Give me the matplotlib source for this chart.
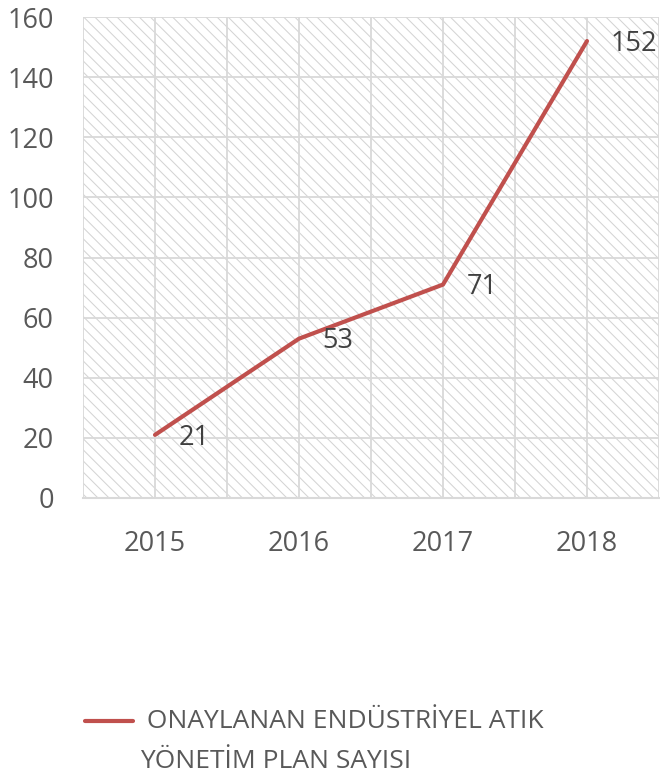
import matplotlib
matplotlib.use("Agg")
import matplotlib.pyplot as plt
from matplotlib.ticker import MultipleLocator
from matplotlib.lines import Line2D

years = ["2015", "2016", "2017", "2018"]
values = [21, 53, 71, 152]
series_lines = ["ONAYLANAN ENDÜSTRİYEL ATIK", "YÖNETİM PLAN SAYISI"]

plt.rcParams['font.family'] = ['Open Sans', 'DejaVu Sans']
plt.rcParams['hatch.color'] = '#d4d4d4'
plt.rcParams['hatch.linewidth'] = 0.75
txt = '#595959'
grid_c = '#d9d9d9'
red = '#C0504D'
W, H = 660, 775

fig = plt.figure(figsize=(6.6, 7.75), dpi=100)
ax = fig.add_axes([83/W, 1 - 498/H, 576/W, (498-17)/H])

ax.set_facecolor('white')
ax.patch.set_hatch('\\\\\\')
ax.patch.set_edgecolor('#d4d4d4')

x = list(range(len(years)))
line, = ax.plot(x, values, color=red, lw=3, solid_capstyle='round', zorder=3)

for xi, v in zip(x, values):
    ax.annotate(str(v), (xi, v), xytext=(17, -2), textcoords='offset points',
                ha='left', va='center', fontsize=19.5, color='#404040')

ax.set_xlim(-0.5, 3.5)
ax.set_ylim(0, 160)
ax.yaxis.set_major_locator(MultipleLocator(20))
ax.set_xticks(x, labels=years)
ax.set_xticks([i - 0.5 for i in range(5)], minor=True)
ax.tick_params(axis='x', which='both', length=0)
ax.tick_params(axis='x', which='major', pad=23, labelsize=19.5, labelcolor=txt)
ax.tick_params(axis='y', length=0, pad=21, labelsize=19.5, labelcolor=txt)
ax.grid(True, which='both', color=grid_c, lw=1.3, zorder=1)
ax.set_axisbelow(True)
for s in ['left', 'right', 'top']:
    ax.spines[s].set_visible(False)
ax.spines['bottom'].set_color(grid_c)
ax.spines['bottom'].set_linewidth(1.5)

# legend (manual, Excel-style: handle aligned with first text line)
fig.add_artist(Line2D([85/W, 133/W], [1 - 721/H, 1 - 721/H], color=red, lw=3,
                      solid_capstyle='round', transform=fig.transFigure))
fig.text(140/W, 1 - 721/H, " " + series_lines[0], ha='left', va='center',
         fontsize=19, color=txt)
fig.text(140/W, 1 - 761/H, series_lines[1], ha='left', va='center',
         fontsize=19, color=txt)

fig.savefig('out.png', dpi=100)
